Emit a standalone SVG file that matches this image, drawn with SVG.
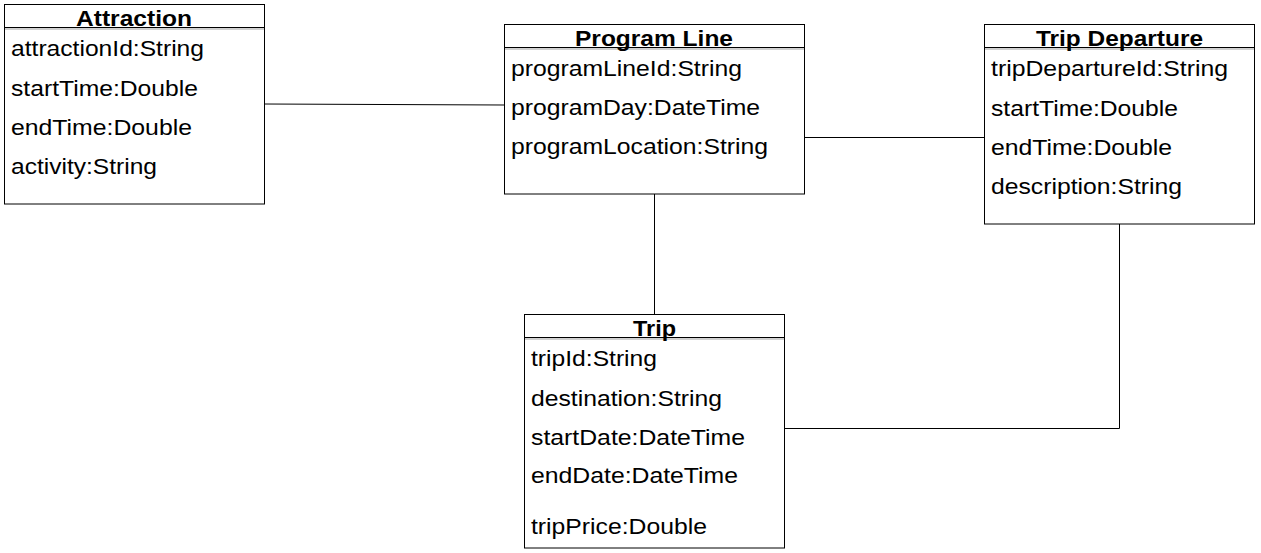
<svg xmlns="http://www.w3.org/2000/svg" width="1261" height="553" viewBox="0 0 1261 553">
<style>
.box{fill:#fff;stroke:#000;stroke-width:1}
.hdr{fill:none;stroke:#000;stroke-width:1}
.shd{fill:none;stroke:#000;stroke-opacity:0.18;stroke-width:2}
.title{font-family:"Liberation Sans",Arial,sans-serif;font-weight:bold;font-size:22px;fill:#000;text-anchor:start}
.attr{font-family:"Liberation Sans",Arial,sans-serif;font-size:21.5px;fill:#000}
.conn{fill:none;stroke:#000;stroke-width:1}
</style>
<rect width="1261" height="553" fill="#fff"/>
<g id="connectors">
<path class="conn" d="M264.5,104 L504.5,105"/>
<path class="conn" d="M804.5,137.5 L984.5,137.5"/>
<path class="conn" d="M654.5,194 L654.5,314.5"/>
<path class="conn" d="M1119.5,224 L1119.5,428.5 L784.5,428.5"/>
</g>
<g id="attraction">
<rect class="box" x="4.5" y="4.5" width="260" height="199.5"/>
<line class="shd" x1="5" y1="29" x2="264" y2="29"/>
<line class="hdr" x1="4.5" y1="27.5" x2="264.5" y2="27.5"/>
<text class="title" x="76" y="25.5" textLength="116" lengthAdjust="spacingAndGlyphs">Attraction</text>
<text class="attr" x="11" y="56" textLength="193" lengthAdjust="spacingAndGlyphs">attractionId:String</text>
<text class="attr" x="11" y="96" textLength="187" lengthAdjust="spacingAndGlyphs">startTime:Double</text>
<text class="attr" x="11" y="135" textLength="181" lengthAdjust="spacingAndGlyphs">endTime:Double</text>
<text class="attr" x="11" y="174" textLength="146" lengthAdjust="spacingAndGlyphs">activity:String</text>
</g>
<g id="program-line">
<rect class="box" x="504.5" y="24.5" width="300" height="169.5"/>
<line class="shd" x1="505" y1="49" x2="804" y2="49"/>
<line class="hdr" x1="504.5" y1="47.5" x2="804.5" y2="47.5"/>
<text class="title" x="575" y="45.5" textLength="158" lengthAdjust="spacingAndGlyphs">Program Line</text>
<text class="attr" x="511" y="76" textLength="231" lengthAdjust="spacingAndGlyphs">programLineId:String</text>
<text class="attr" x="511" y="115" textLength="249" lengthAdjust="spacingAndGlyphs">programDay:DateTime</text>
<text class="attr" x="511" y="154" textLength="257" lengthAdjust="spacingAndGlyphs">programLocation:String</text>
</g>
<g id="trip-departure">
<rect class="box" x="984.5" y="24.5" width="270" height="199.5"/>
<line class="shd" x1="985" y1="49" x2="1254" y2="49"/>
<line class="hdr" x1="984.5" y1="47.5" x2="1254.5" y2="47.5"/>
<text class="title" x="1036" y="45.5" textLength="167" lengthAdjust="spacingAndGlyphs">Trip Departure</text>
<text class="attr" x="991" y="76" textLength="237" lengthAdjust="spacingAndGlyphs">tripDepartureId:String</text>
<text class="attr" x="991" y="116" textLength="187" lengthAdjust="spacingAndGlyphs">startTime:Double</text>
<text class="attr" x="991" y="155" textLength="181" lengthAdjust="spacingAndGlyphs">endTime:Double</text>
<text class="attr" x="991" y="194" textLength="191" lengthAdjust="spacingAndGlyphs">description:String</text>
</g>
<g id="trip">
<rect class="box" x="524.5" y="314.5" width="260" height="233.5"/>
<line class="shd" x1="525" y1="339" x2="784" y2="339"/>
<line class="hdr" x1="524.5" y1="337.5" x2="784.5" y2="337.5"/>
<text class="title" x="633" y="335.5" textLength="43" lengthAdjust="spacingAndGlyphs">Trip</text>
<text class="attr" x="531" y="366" textLength="126" lengthAdjust="spacingAndGlyphs">tripId:String</text>
<text class="attr" x="531" y="406" textLength="191" lengthAdjust="spacingAndGlyphs">destination:String</text>
<text class="attr" x="531" y="445" textLength="214" lengthAdjust="spacingAndGlyphs">startDate:DateTime</text>
<text class="attr" x="531" y="483" textLength="207" lengthAdjust="spacingAndGlyphs">endDate:DateTime</text>
<text class="attr" x="531" y="534" textLength="176" lengthAdjust="spacingAndGlyphs">tripPrice:Double</text>
</g>
</svg>
